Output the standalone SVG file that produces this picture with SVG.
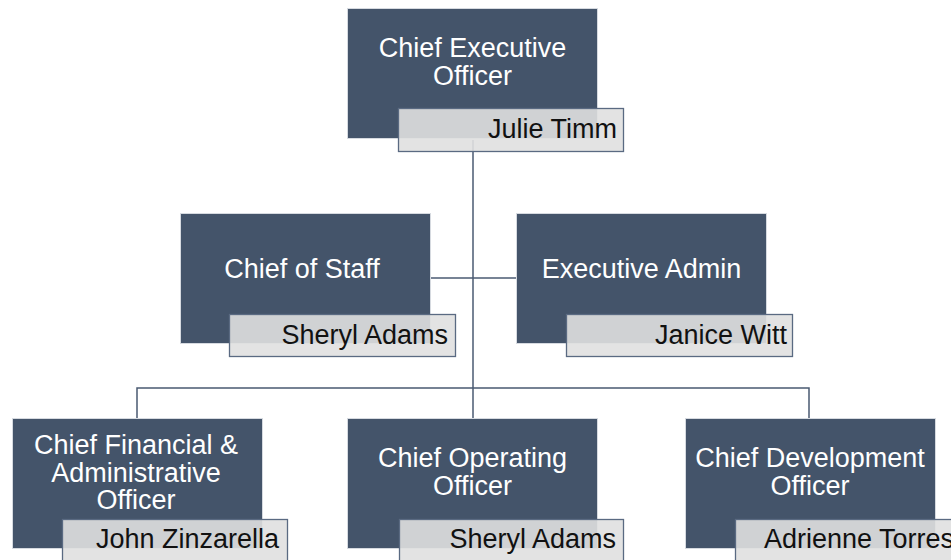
<svg xmlns="http://www.w3.org/2000/svg" width="951" height="560" viewBox="0 0 951 560">
<style>
.box{fill:#44546a;stroke:#d6dae0;stroke-width:1}
.name{fill:#e0e0e0;fill-opacity:0.9;stroke:#5a6a82;stroke-width:1.3}
.t{font-family:"Liberation Sans",Arial,sans-serif;font-size:27px;fill:#ffffff;text-anchor:middle}
.n{font-family:"Liberation Sans",Arial,sans-serif;font-size:27px;fill:#111111;text-anchor:end}
.c{fill:none;stroke:#4a5a72;stroke-width:1.5}
</style>
<rect width="951" height="560" fill="#ffffff"/>
<g id="connectors">
<path class="c" d="M473 140 V388"/>
<path class="c" d="M431 278 H516"/>
<path class="c" d="M137 418 V388 H809 V418"/>
<path class="c" d="M473 388 V418"/>
</g>
<g id="ceo">
<rect class="box" x="347.5" y="8.5" width="250" height="130"/>
<text class="t" x="472.5" y="57">Chief Executive</text>
<text class="t" x="472.5" y="85">Officer</text>
<rect class="name" x="398.5" y="108.5" width="225" height="43"/>
<text class="n" x="617" y="138">Julie Timm</text>
</g>
<g id="cos">
<rect class="box" x="180.5" y="213.5" width="250" height="130"/>
<text class="t" x="302" y="278">Chief of Staff</text>
<rect class="name" x="229.5" y="314.5" width="226" height="42"/>
<text class="n" x="448" y="344">Sheryl Adams</text>
</g>
<g id="ea">
<rect class="box" x="516.5" y="213.5" width="250" height="130"/>
<text class="t" x="641.5" y="278">Executive Admin</text>
<rect class="name" x="566.5" y="314.5" width="226" height="42"/>
<text class="n" x="787" y="344">Janice Witt</text>
</g>
<g id="cfo">
<rect class="box" x="12.5" y="418.5" width="250" height="130"/>
<text class="t" x="136" y="454">Chief Financial &amp;</text>
<text class="t" x="136" y="482">Administrative</text>
<text class="t" x="136" y="509">Officer</text>
<rect class="name" x="62.5" y="519.5" width="225" height="43"/>
<text class="n" x="279" y="548">John Zinzarella</text>
</g>
<g id="coo">
<rect class="box" x="347.5" y="418.5" width="250" height="130"/>
<text class="t" x="472.5" y="467">Chief Operating</text>
<text class="t" x="472.5" y="495">Officer</text>
<rect class="name" x="399.5" y="519.5" width="224" height="43"/>
<text class="n" x="616" y="548">Sheryl Adams</text>
</g>
<g id="cdo">
<rect class="box" x="685.5" y="418.5" width="250" height="130"/>
<text class="t" x="810" y="467">Chief Development</text>
<text class="t" x="810" y="495">Officer</text>
<rect class="name" x="735.5" y="519.5" width="226" height="43"/>
<text class="n" x="954" y="548">Adrienne Torres</text>
</g>
</svg>
